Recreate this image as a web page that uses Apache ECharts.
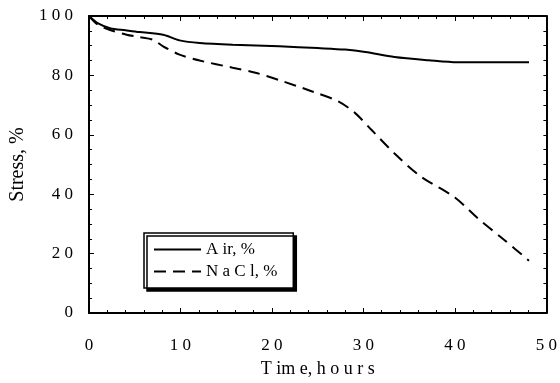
<!DOCTYPE html>
<html><head><meta charset="utf-8">
<script src="https://cdn.jsdelivr.net/npm/echarts@6/dist/echarts.min.js"></script>
<style>html,body{margin:0;padding:0;background:#fff}#c{width:560px;height:383px}</style>
</head><body><div id="c"></div>
<script>
const xTickLabels = ['0','1 0','2 0','3 0','4 0','5 0'];
const yTickLabels = ['0','2 0','4 0','6 0','8 0','1 0 0'];
const airName = 'A ir, %';
const naclName = 'N a C l, %';
const airTime   = [0, 1, 2.3, 4, 5.5, 8.1, 9.9, 12.1, 15.7, 20.8, 25, 28, 30.2, 33.4, 37.1, 40.3, 44, 48.1];
const airStress = [100, 97.5, 95.9, 95.2, 94.6, 93.7, 91.8, 90.9, 90.3, 89.8, 89.2, 88.7, 87.9, 86.2, 85.1, 84.4, 84.4, 84.4];
const naclTime   = [0, 1, 2.3, 4.1, 5.5, 7, 8.1, 9.9, 12.1, 15.7, 18.2, 20.8, 24.4, 27.3, 29.1, 30.9, 33.4, 36.3, 40, 42.5, 45.4, 48.1];
const naclStress = [100, 97, 95.3, 93.7, 92.9, 92, 89.8, 87, 85, 82.6, 80.9, 78.4, 74.6, 71.2, 67.3, 61.6, 53.7, 45.9, 38.9, 31.9, 24.6, 17.6];

const font = '"Liberation Serif", "DejaVu Serif", serif';
const pairs = (xs, ys) => xs.map((x, i) => [x, ys[i]]);
const fmt = (labels, step) => v => { const i = Math.round(v / step); return labels[i] !== undefined ? labels[i] : ''; };

const chart = echarts.init(document.getElementById('c'), null, {renderer: 'canvas'});
const axisLine = {show: true, onZero: false, lineStyle: {color: '#000', width: 2}};
chart.setOption({
  backgroundColor: '#fff',
  animation: false,
  grid: {left: 89, right: 11, top: 16, bottom: 70},
  xAxis: [{
    type: 'value', min: 0, max: 50, interval: 10, position: 'bottom',
    axisLine: axisLine,
    axisTick: {show: true, inside: true, length: 5, lineStyle: {color: '#000', width: 1}},
    minorTick: {show: true, splitNumber: 5, length: 3, lineStyle: {color: '#000', width: 1}},
    splitLine: {show: false},
    axisLabel: {margin: 24, color: '#000', fontFamily: font, fontSize: 17, formatter: fmt(xTickLabels, 10)},
    name: 'T im e, h o u r s', nameLocation: 'middle', nameGap: 47,
    nameTextStyle: {color: '#000', fontFamily: font, fontSize: 18}
  }, {
    type: 'value', min: 0, max: 50, interval: 10, position: 'top',
    axisLine: axisLine,
    axisTick: {show: true, inside: true, length: 5, lineStyle: {color: '#000', width: 1}},
    minorTick: {show: true, splitNumber: 5, length: 3, lineStyle: {color: '#000', width: 1}},
    splitLine: {show: false}, axisLabel: {show: false}
  }],
  yAxis: [{
    type: 'value', min: 0, max: 100, interval: 20, position: 'left',
    axisLine: axisLine,
    axisTick: {show: true, inside: true, length: 5, lineStyle: {color: '#000', width: 1}},
    minorTick: {show: true, splitNumber: 4, length: 3, lineStyle: {color: '#000', width: 1}},
    splitLine: {show: false},
    axisLabel: {margin: 16, color: '#000', fontFamily: font, fontSize: 17, formatter: fmt(yTickLabels, 20)},
    name: 'Stress, %', nameLocation: 'middle', nameGap: 59,
    nameTextStyle: {color: '#000', fontFamily: font, fontSize: 20}
  }, {
    type: 'value', min: 0, max: 100, interval: 20, position: 'right',
    axisLine: axisLine,
    axisTick: {show: true, inside: true, length: 3, lineStyle: {color: '#000', width: 1}},
    minorTick: {show: true, splitNumber: 4, length: 3, lineStyle: {color: '#000', width: 1}},
    splitLine: {show: false}, axisLabel: {show: false}
  }],
  legend: {
    orient: 'vertical', left: 144, top: 233,
    padding: [8, 16, 8, 9], itemGap: 5, itemWidth: 47, itemHeight: 14,
    backgroundColor: '#fff', borderColor: '#000', borderWidth: 1.5,
    shadowColor: '#000', shadowBlur: 0, shadowOffsetX: 3, shadowOffsetY: 3,
    itemStyle: {opacity: 0},
    textStyle: {color: '#000', fontFamily: font, fontSize: 17},
    data: [airName, naclName]
  },
  series: [{
    name: airName, type: 'line', symbol: 'none', smooth: 0.3,
    data: pairs(airTime, airStress),
    lineStyle: {color: '#000', width: 2, type: 'solid'}
  }, {
    name: naclName, type: 'line', symbol: 'none', smooth: 0.3,
    data: pairs(naclTime, naclStress),
    lineStyle: {color: '#000', width: 2, type: [12, 7]}
  }]
});
</script></body></html>
